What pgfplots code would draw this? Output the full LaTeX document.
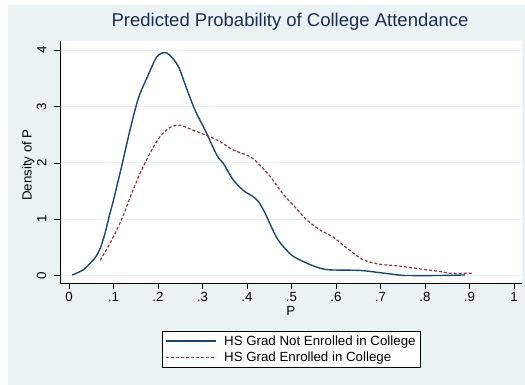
\documentclass[border=0pt]{standalone}
\usepackage{fontspec}
\setmainfont{Liberation Sans}
\usepackage{pgfplots}
\pgfplotsset{compat=1.18}
\definecolor{bg}{RGB}{234,242,243}
\definecolor{sblue}{RGB}{26,71,111}
\definecolor{sred}{RGB}{144,53,59}
\definecolor{ttl}{RGB}{30,45,83}
\definecolor{gridc}{RGB}{234,242,243}
\begin{document}
\begin{tikzpicture}[x=1pt,y=1pt]
\useasboundingbox (-60,-102) rectangle (465,283);
\fill[white] (-60,-102) rectangle (465,283);
\fill[bg] (-52,-102) rectangle (465,278);
\fill[white] (0,0) rectangle (462,242);
\begin{axis}[
  at={(0pt,0pt)}, anchor=south west,
  scale only axis, width=462pt, height=242pt,
  xmin=-0.0202, xmax=1.018, ymin=-0.133, ymax=4.165,
  axis x line*=bottom, axis y line*=left,
  axis line style={-, black, line width=0.9pt},
  tick align=outside, major tick length=6pt,
  tick style={black, line width=0.7pt},
  xtick={0,0.1,0.2,0.3,0.4,0.5,0.6,0.7,0.8,0.9,1},
  xticklabels={0,.1,.2,.3,.4,.5,.6,.7,.8,.9,1},
  ytick={0,1,2,3,4}, yticklabels={0,1,2,3,4},
  /pgf/number format/assume math mode=true,
  ticklabel style={font=\fontsize{13.3}{15}\selectfont},
  yticklabel style={rotate=90, anchor=south, inner ysep=7.5pt},
  ymajorgrids, grid style={color=gridc, line width=1.2pt},
  title={Predicted Probability of College Attendance},
  title style={font=\fontsize{18.5}{22}\selectfont, color=ttl, at={(axis description cs:0.498,1.0537)}, anchor=center},
  xlabel={P},
  xlabel style={font=\fontsize{13.3}{15}\selectfont, at={(axis description cs:0.4994,-0.1149)}, anchor=center},
  ylabel={Density of P},
  ylabel style={font=\fontsize{13.3}{15}\selectfont, at={(axis description cs:-0.0686,0.4876)}, anchor=center, rotate=0},
  legend style={at={(axis description cs:0.5015,-0.2736)}, anchor=center, draw=black, fill=white, line width=0.6pt,
    font=\fontsize{13.3}{15}\selectfont, inner xsep=3pt, inner ysep=2pt, row sep=1pt,
    nodes={inner sep=2pt},
    /tikz/every odd column/.append style={column sep=5pt}},
  legend cell align=left,
  legend image code/.code={\draw[#1] (0pt,0pt) -- (50pt,0pt);},
  clip=false
]
\addplot[sblue, line width=1.4pt, smooth] coordinates {
(0.0075,0.01) (0.032,0.10) (0.050,0.24) (0.060,0.33) (0.070,0.48) (0.080,0.72)
(0.090,1.04) (0.100,1.34)
(0.118,1.93) (0.137,2.58) (0.156,3.15) (0.178,3.56) (0.197,3.88) (0.214,3.96)
(0.227,3.91) (0.246,3.71) (0.263,3.35) (0.283,2.94) (0.306,2.58) (0.332,2.14)
(0.347,1.99) (0.369,1.70) (0.392,1.51) (0.412,1.41) (0.425,1.32) (0.440,1.12)
(0.455,0.86) (0.470,0.63) (0.490,0.44) (0.504,0.34) (0.534,0.22) (0.564,0.13) (0.587,0.10)
(0.654,0.09) (0.699,0.05) (0.740,0.01) (0.760,0.00) (0.830,0.00) (0.890,0.01)
};
\addlegendentry{HS Grad Not Enrolled in College\hspace{7.5pt}}
\addplot[sred, line width=1.2pt, dash pattern=on 3pt off 2pt, smooth] coordinates {
(0.070,0.27) (0.092,0.57) (0.118,0.99) (0.137,1.38) (0.160,1.82) (0.182,2.17)
(0.204,2.46) (0.227,2.63) (0.249,2.67) (0.279,2.58) (0.309,2.49) (0.339,2.38)
(0.369,2.23) (0.407,2.11) (0.429,1.96) (0.452,1.76) (0.474,1.52) (0.493,1.34)
(0.504,1.25) (0.534,0.99) (0.564,0.81) (0.594,0.68) (0.624,0.49) (0.661,0.28)
(0.699,0.20) (0.740,0.17) (0.796,0.11) (0.834,0.07) (0.856,0.04) (0.905,0.04)
};
\addlegendentry{HS Grad Enrolled in College}
\end{axis}
\end{tikzpicture}
\end{document}
